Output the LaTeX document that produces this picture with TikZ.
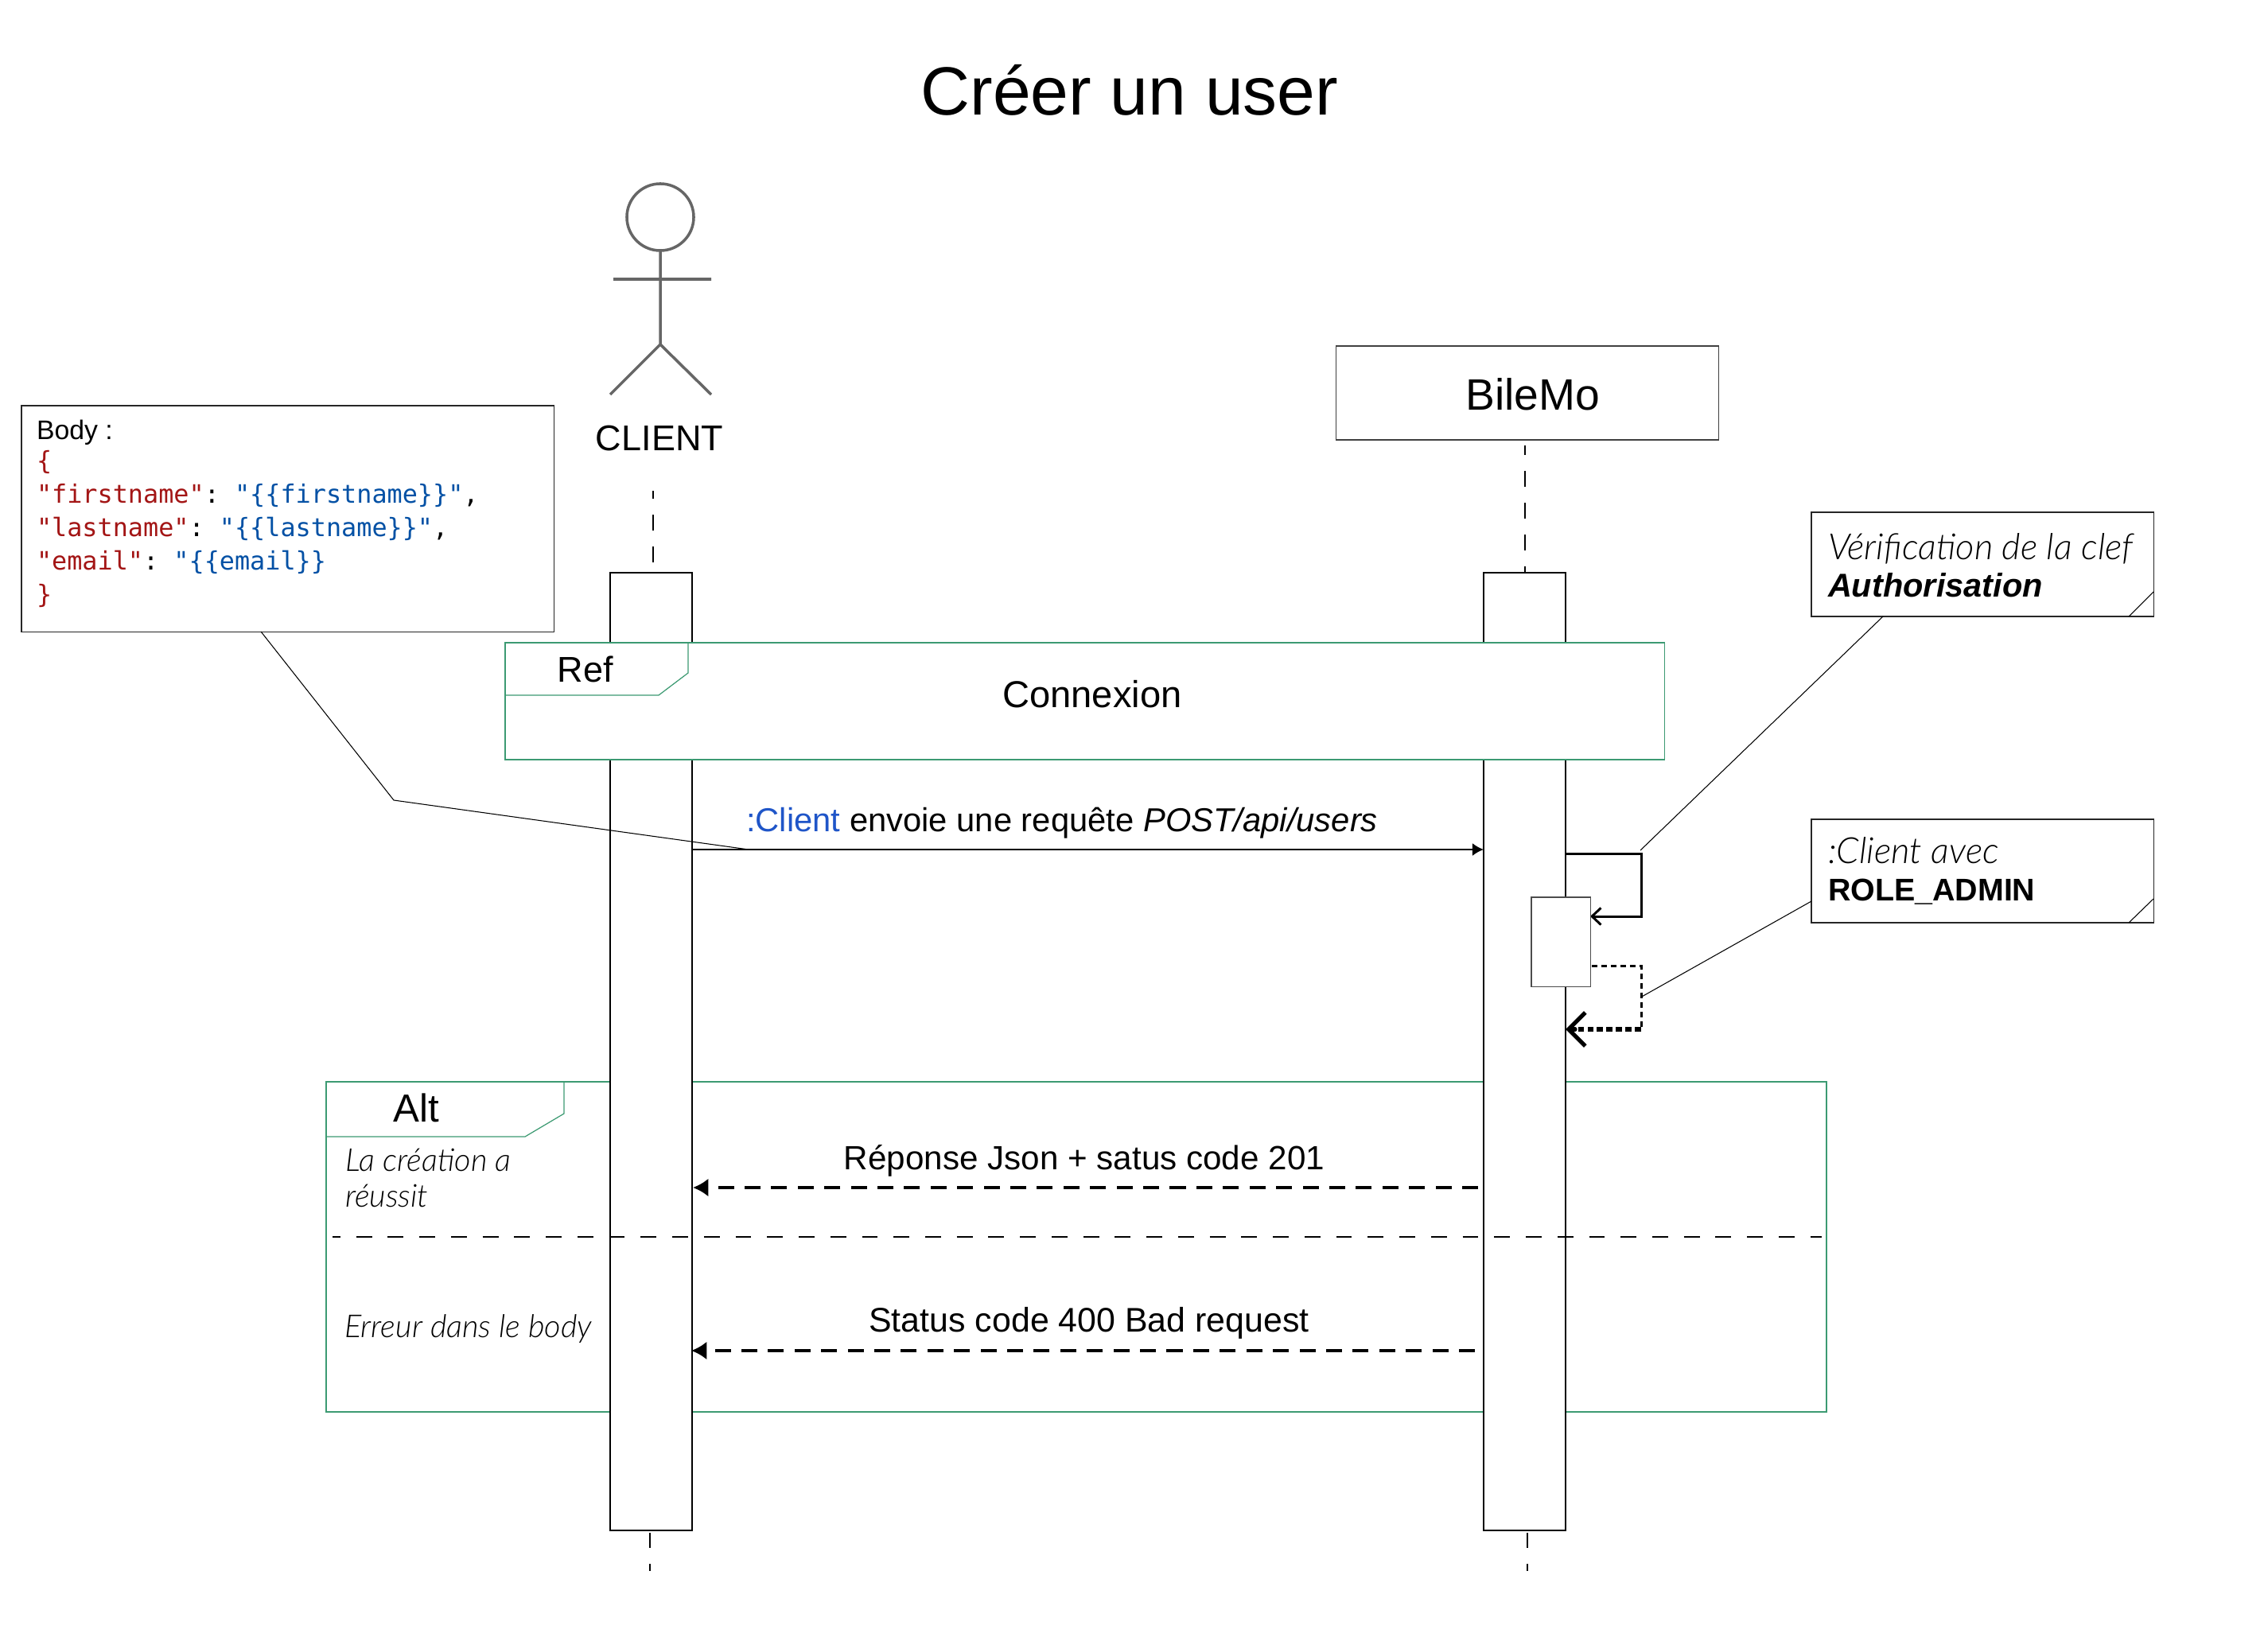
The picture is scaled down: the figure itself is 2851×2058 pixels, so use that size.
\documentclass[tikz,border=0pt]{standalone}
\usepackage{fontspec}
\usetikzlibrary{arrows.meta}
\setmainfont{Liberation Sans}
\setmonofont{DejaVu Sans Mono}
\newfontfamily\thinfont[ItalicFont={Lato Light Italic}]{Lato}
\definecolor{framegreen}{HTML}{3C9A72}
\definecolor{jsonkey}{HTML}{A31515}
\definecolor{jsonval}{HTML}{0451A5}
\definecolor{actorgrey}{HTML}{666666}
\definecolor{clientblue}{HTML}{1F55C8}
\begin{document}
\begin{tikzpicture}[x=0.01cm,y=-0.01cm,
				every node/.style={inner sep=0pt, outer sep=0pt},
				lifebar/.style={draw, fill=white, line width=0.65pt, anchor=north west, minimum width=1.03cm, minimum height=12.03cm},
				life/.style={line width=0.55pt, dash pattern=on 5.7pt off 5.7pt},
				lifeend/.style={line width=0.35pt, dash pattern=on 5.4pt off 5.7pt},
				framebox/.style={draw=framegreen, line width=0.35pt},
				note/.style={draw=black!85, fill=white, line width=0.35pt, anchor=north west},
				leader/.style={line width=0.3pt},
				label/.style={font=\fontsize{12}{15}\selectfont},
				tabtitle/.style={font=\fontsize{12.8}{15}\selectfont},
				remark/.style={font=\fontsize{11.3}{13}\selectfont\thinfont\itshape, anchor=west, align=left},
				notetext/.style={anchor=west, align=left, font=\fontsize{12}{13.4}\selectfont},
				answer/.style={line width=1pt, dash pattern=on 5.7pt off 3.8pt, -{Latex[length=5.5pt,width=6.5pt]}}]
	\useasboundingbox (0,0) rectangle (2851,2058);
	\node (title) at (1420,113) {\fontsize{24.4}{30}\selectfont Créer un user};

	% alt frame goes behind the bars
	\draw[framebox] (410,1360) rectangle (2296,1775);
	\draw[framebox] (410,1429) -- (660,1429) -- (709,1400) -- (709,1360);

	% client actor
	\node[draw=actorgrey, line width=1pt, circle, minimum size=0.84cm] (head) at (830,273) {};
	\coordinate (hip) at (830,433);
	\coordinate (armleft) at (771,351);
	\coordinate (armright) at (894,351);
	\coordinate (footleft) at (767,496);
	\coordinate (footright) at (894,496);
	\draw[actorgrey, line width=1pt] (head) -- (hip) -- (footleft) (hip) -- (footright) (armleft) -- (armright);
	\node[tabtitle] (client) at (829,551) {CLIENT};

	% BileMo
	\node[draw=black!75, line width=0.35pt, minimum width=4.8cm, minimum height=1.18cm] (bilemo) at (1920,494) {};
	\node[font=\fontsize{15.7}{18}\selectfont] (bilemotext) at (1927,496) {BileMo};

	% lifelines
	\node[lifebar] (clientbar) at (767,720) {};
	\node[lifebar] (bilemobar) at (1865,720) {};
	\coordinate (clienttop) at (821,617);
	\coordinate (clienttopend) at (821,720);
	\coordinate (clientlow) at (817,1927);
	\coordinate (clientbottom) at (817,1975);
	\coordinate (bilemotop) at (1917,560);
	\coordinate (bilemotopend) at (1917,720);
	\coordinate (bilemolow) at (1920,1927);
	\coordinate (bilemobottom) at (1920,1975);
	\draw[life, dash phase=2.85pt] (clienttop) -- (clienttopend);
	\draw[life, dash phase=2.3pt] (bilemotop) -- (bilemotopend);
	\draw[lifeend] (clientlow) -- (clientbottom);
	\draw[lifeend] (bilemolow) -- (bilemobottom);

	% ref frame
	\node[draw=framegreen, fill=white, line width=0.35pt, anchor=north west, minimum width=14.57cm, minimum height=1.47cm] (ref) at (635,808) {};
	\draw[framebox] (635,874) -- (828,874) -- (865,846) -- (865,808);
	\node[tabtitle] (reftext) at (736,841) {Ref};
	\node[font=\fontsize{13.4}{15}\selectfont] (connexion) at (1373,873) {Connexion};

	% messages
	\coordinate (poststart) at (870,1068);
	\coordinate (postend) at (1865,1068);
	\draw[line width=0.7pt, -{Latex[length=4pt,width=4.6pt]}] (poststart) -- (postend);
	\node[font=\fontsize{11.87}{15}\selectfont] (post) at (1335,1035) {\textcolor{clientblue}{:Client} envoie une requête \textit{POST/api/users}};

	\coordinate (selfa) at (1968,1073);
	\coordinate (selfb) at (2063,1073);
	\coordinate (selfc) at (2063,1152);
	\coordinate (selfd) at (1999,1152);
	\draw[line width=0.85pt, -{Straight Barb[length=3.2pt,width=6pt]}] (selfa) -- (selfb) -- (selfc) -- (selfd);

	\node[draw=black!70, fill=white, line width=0.3pt, anchor=north west, minimum width=0.74cm, minimum height=1.12cm] (check) at (1925,1128) {};
	\coordinate (backa) at (2001,1214);
	\coordinate (backb) at (2063,1214);
	\coordinate (backc) at (2063,1294);
	\coordinate (backd) at (1975,1294);
	\coordinate (backe) at (1980,1294);
	\coordinate (backf) at (1968,1294);
	\draw[line width=0.85pt, dash pattern=on 2pt off 1.4pt] (backa) -- (backb) -- (backc);
	\draw[line width=1.5pt, dash pattern=on 2.2pt off 1.2pt] (backc) -- (backd);
	\draw[line width=1.5pt, line cap=round, -{Straight Barb[length=6pt,width=12pt]}] (backe) -- (backf);

	\node[label] (reponse) at (1363,1459) {Réponse Json + satus code 201};
	\coordinate (reponsestart) at (1858,1493);
	\coordinate (reponseend) at (871,1493);
	\draw[answer] (reponsestart) -- (reponseend);
	\node[font=\fontsize{12.2}{15}\selectfont] (status) at (1369,1663) {Status code 400 Bad request};
	\coordinate (statusstart) at (1854,1698);
	\coordinate (statusend) at (869,1698);
	\draw[answer] (statusstart) -- (statusend);

	% alt divider and texts
	\coordinate (altleft) at (418,1555);
	\coordinate (altright) at (2290,1555);
	\draw[line width=0.5pt, dash pattern=on 5.65pt off 5.65pt, dash phase=2.85pt] (altleft) -- (altright);
	\node[font=\fontsize{14}{15}\selectfont] (alt) at (523,1393) {Alt};
	\node[remark] (success) at (434,1481) {La création a\\réussit};
	\node[remark] (failure) at (433,1671) {Erreur dans le body};

	% notes
	\node[note, minimum width=6.69cm, minimum height=2.84cm] (body) at (27,510) {};
	\node[anchor=north west, align=left, font=\fontsize{9.05}{11.9}\selectfont\ttfamily] (bodytext) at (46,528) {%
		{\fontsize{9.6}{11.9}\rmfamily Body :}\\[-1pt]
		\textcolor{jsonkey}{\{}\\
		\textcolor{jsonkey}{"firstname"}: \textcolor{jsonval}{"\{\{firstname\}\}"},\\
		\textcolor{jsonkey}{"lastname"}: \textcolor{jsonval}{"\{\{lastname\}\}"},\\
		\textcolor{jsonkey}{"email"}: \textcolor{jsonval}{"\{\{email\}\}}\\
		\textcolor{jsonkey}{\}}};
	\coordinate (bodyfoot) at (328,794);
	\coordinate (bodyelbow) at (495,1006);
	\coordinate (bodyend) at (941,1068);
	\draw[leader] (bodyfoot) -- (bodyelbow) -- (bodyend);

	\node[note, minimum width=4.3cm, minimum height=1.31cm] (keynote) at (2277,644) {};
	\node[notetext] (keytext) at (2298,711) {{\thinfont\itshape\fontsize{12.9}{13.4}\selectfont Vérification de la clef}\\{\fontsize{11.8}{13.4}\selectfont\textbf{\textit{Authorisation}}}};
	\coordinate (keyfolda) at (2676,775);
	\coordinate (keyfoldb) at (2707,744);
	\draw[leader] (keyfolda) -- (keyfoldb);
	\coordinate (keyfoot) at (2367,775);
	\coordinate (keyend) at (2062,1069);
	\draw[leader] (keyfoot) -- (keyend);

	\node[note, minimum width=4.3cm, minimum height=1.3cm] (rolenote) at (2277,1030) {};
	\node[notetext] (roletext) at (2298,1095) {{\thinfont\itshape\fontsize{12.9}{13.4}\selectfont :Client avec}\\{\fontsize{11.2}{13.4}\selectfont\textbf{ROLE\_ADMIN}}};
	\coordinate (rolefolda) at (2676,1160);
	\coordinate (rolefoldb) at (2707,1130);
	\draw[leader] (rolefolda) -- (rolefoldb);
	\coordinate (rolefoot) at (2277,1133);
	\coordinate (roleend) at (2062,1254);
	\draw[leader] (rolefoot) -- (roleend);
\end{tikzpicture}
\end{document}
